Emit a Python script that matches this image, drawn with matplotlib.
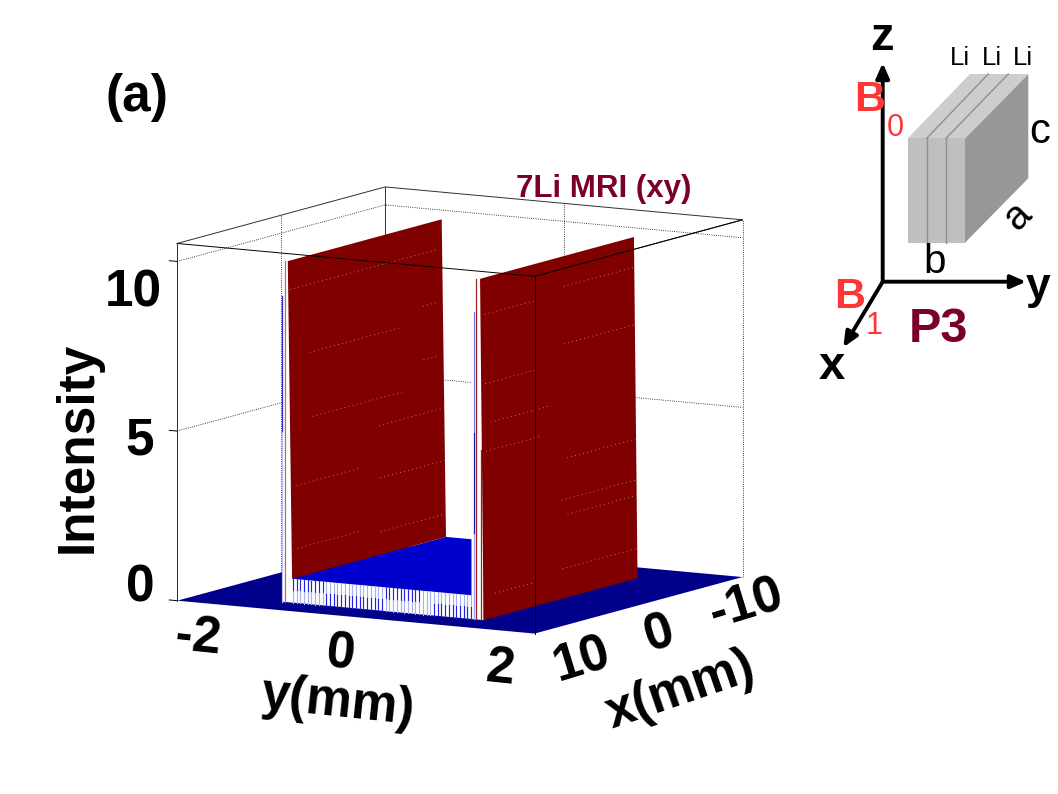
import numpy as np
import matplotlib
matplotlib.use("Agg")
import matplotlib.pyplot as plt

plt.rcParams["font.family"] = ["Liberation Sans", "DejaVu Sans"]

# surface
x_lim = [-12.5, 12.5]
y_lim = [-2.5, 2.5]
z_lim = [0, 10.53]
wall_x = [-8.9, 9.6]
wall_top = 10.05
plateau_z = 0.7
left_wall_y = [-1.29, -1.23]    # at the top, at the base
right_wall_y = [1.40, 1.45]
plateau_y = [-1.23, 1.28]
curtain_y = [-1.36, 1.30]

# light streaks on the walls: z, x from, x to
left_streaks = [(9.2, 9.4, -8.4), (7.2, 7.1, -3.8), (7.65, -6.5, -8.4), (5.3, 6.9, -3.8),
                (6.08, -6.5, -8.4), (3.4, 8.9, 1.2), (2.95, -1.1, -8.9), (4.5, -1.1, -8.9),
                (1.55, 8.9, 1.2), (1.38, -1.1, -8.9)]
right_streaks = [(8.97, 9.1, 2.8), (9.16, -0.4, -8.8), (7.47, -0.4, -8.8), (6.93, 9.1, 2.8),
                 (5.76, 8.5, 1.4), (4.94, 9.1, 2.6), (4.1, -0.6, -8.9), (2.9, 0.1, -8.9),
                 (2.44, -0.6, -8.9), (0.7, 8.2, 3.0), (0.88, 0.1, -8.9)]

# thin lines on the front ends of the walls: y, z from, z to, colour
end_lines = [(-1.37, 5.0, 9.0, "#2a2ac0"), (-1.37, 0.0, 5.0, "#b8bcec"), (-1.33, 0.0, wall_top, "#c06a6a"),
             (1.32, 5.5, 9.05, "#7a7af0"), (1.32, 2.5, 5.5, "#1a1ab0"), (1.32, 0.0, 2.5, "#a0a0f0"),
             (1.35, 0.0, wall_top, "#a02020"), (1.42, 0.0, 5.0, "#a02020")]

# mesh stripes on the front of the plateau
stripe_y = np.arange(-1.22, 1.28, 0.052)
upper_dark = [(-1.22, -0.77), (0.03, 0.57)]
lower_dark = [(-0.77, 0.03), (0.73, 1.30)]

# labels
z_ticks = [0, 5, 10]

# schematic, in picture pixels
origin = (882.7, 281.7)
arrow_ends = [(882.7, 63), (1026, 281.7), (843.3, 347.3)]
block_front = [(907.7, 138.3), (965, 138.3), (965, 242.7), (907.7, 242.7)]
block_top = [(907.7, 138.3), (965, 138.3), (1028.3, 74), (970, 74)]
block_side = [(965, 138.3), (1028.3, 74), (1028.3, 178.3), (965, 242.7)]
layer_lines = [[(926.7, 138.3), (926.7, 242.7)], [(946, 138.3), (946, 242.7)],
               [(926.7, 138.3), (988.3, 74)], [(946, 138.3), (1008.3, 74)]]

maroon = "#7a0026"
red = "#ff3636"

fig = plt.figure(figsize=(10.58, 7.94), dpi=100)
ax = fig.add_axes([0.00577, 0.0516, 0.8407, 0.8407], projection="3d", proj_type="ortho", computed_zorder=False)
ax.view_init(elev=9.1, azim=30.2)
ax.set_box_aspect((1, 1, 0.875))
ax.set_xlim(x_lim)
ax.set_ylim(y_lim)
ax.set_zlim(z_lim)
ax.set_axis_off()


def sheet(xs, ys, zs, color, order):
    ax.plot_surface(np.array(xs), np.array(ys), np.array(zs), color=color, shade=False,
                    linewidth=0, antialiased=True, zorder=order)


def hairline(xs, ys, zs, order, color="black", lw=0.7, ls="-"):
    ax.plot(xs, ys, zs, color=color, lw=lw, ls=ls, zorder=order)


x0, x1 = x_lim
y0, y1 = y_lim
ztop = z_lim[1]

# back of the box
for z in z_ticks[1:]:
    hairline([x1, x0, x0], [y0, y0, y1], [z, z, z], 1, lw=0.6, ls=":")
hairline([0, 0], [y0, y0], [0, ztop], 1, lw=0.6, ls=":")
hairline([x0, x0], [0, 0], [0, ztop], 1, lw=0.6, ls=":")
hairline([x1, x0, x0, x1], [y0, y0, y1, y1], [ztop] * 4, 1, color="#303030")
hairline([x0, x0], [y0, y0], [0, ztop], 1, color="#303030")
hairline([x0, x0], [y1, y1], [0, ztop], 1, lw=0.6, ls=":")
hairline([x1, x1], [y0, y0], [0, ztop], 1, color="#303030")

# floor
sheet([[x0, x1], [x0, x1]], [[y0, y0], [y1, y1]], [[0, 0], [0, 0]], "#00008b", 2)

# plateau
sheet([[wall_x[0], wall_x[1]], [wall_x[0], wall_x[1]]], [[plateau_y[0]] * 2, [plateau_y[1]] * 2],
      [[plateau_z] * 2, [plateau_z] * 2], "#0000cd", 2.5)

# white front ends of the plateau and walls
fx = wall_x[1]
sheet([[fx, fx], [fx, fx]], [[curtain_y[0], curtain_y[1]], [curtain_y[0], curtain_y[1]]],
      [[0, 0], [plateau_z, plateau_z]], "white", 3)
sheet([[fx, fx], [fx, fx]], [[curtain_y[0], curtain_y[0]], [plateau_y[0], plateau_y[0]]],
      [[0, wall_top], [0, wall_top]], "white", 3)
sheet([[fx, fx], [fx, fx]], [[plateau_y[1], plateau_y[1]], [right_wall_y[1], right_wall_y[1]]],
      [[0, wall_top], [0, wall_top]], "white", 3)

# stripes
mid = plateau_z / 2
for y in stripe_y:
    up = "#2222e0" if any(a <= y <= b for a, b in upper_dark) else "#aab2ee"
    low = "#2222e0" if any(a <= y <= b for a, b in lower_dark) else "#aab2ee"
    hairline([fx, fx], [y, y], [mid, plateau_z], 4, color=up, lw=0.85)
    hairline([fx, fx], [y, y], [0, mid], 4, color=low, lw=0.85)

for y, z_a, z_b, c in end_lines:
    hairline([fx, fx], [y, y], [z_a, z_b], 4, color=c, lw=0.9)

# walls
sheet([[wall_x[0], wall_x[1]], [wall_x[0], wall_x[1]]], [[left_wall_y[0]] * 2, [left_wall_y[1]] * 2],
      [[wall_top] * 2, [plateau_z] * 2], "#800000", 6)
sheet([[wall_x[0], wall_x[1]], [wall_x[0], wall_x[1]]], [[right_wall_y[0]] * 2, [right_wall_y[1]] * 2],
      [[wall_top] * 2, [0] * 2], "#800000", 6)

for streaks, wy, base in [(left_streaks, left_wall_y, plateau_z), (right_streaks, right_wall_y, 0)]:
    for z, xa, xb in streaks:
        y = np.interp(z, [base, wall_top], [wy[1], wy[0]])
        hairline([xa, xb], [y, y], [z, z], 7, color="#c99a9a", lw=0.6, ls=(0, (1, 4)))

# front edges of the box, these run over the walls
hairline([x1, x1, x0], [y0, y1, y1], [ztop] * 3, 8)
hairline([x1, x1], [y1, y1], [0, ztop], 8)
hairline([x1, x1], [y0, y0], [0, ztop], 8, color="#303030")

# z ticks
for z in z_ticks:
    hairline([x1, x1], [y0, y0 - 0.11], [z, z], 8)

# overlay in picture pixels for the labels and the sketch
ov = fig.add_axes([0, 0, 1, 1], facecolor="none", zorder=5)
ov.set_xlim(0, 1058)
ov.set_ylim(794, 0)
ov.axis("off")

big = dict(fontsize=37, fontweight="bold", ha="center", va="center")
ov.text(136.5, 97, "(a)", **big)
ov.text(78, 447, "Intensity", rotation=90, **big)
ov.text(133, 293, "10", **big)
ov.text(140, 441, "5", **big)
ov.text(140, 588, "0", **big)
ov.text(198, 638, "-2", rotation=-6, **big)
ov.text(341, 655, "0", rotation=-6, **big)
ov.text(500, 669, "2", rotation=-6, **big)
ov.text(338, 703, "y(mm)", rotation=-6, **big)
ov.text(582, 660, "10", rotation=17, **big)
ov.text(660, 634, "0", rotation=17, **big)
ov.text(746, 605, "-10", rotation=17, **big)
ov.text(681, 691, "x(mm)", rotation=19, **big)
ov.text(604, 189, "7Li MRI (xy)", fontsize=22.5, fontweight="bold", color=maroon, ha="center", va="center")

# sketch of the sample
ov.fill(*zip(*block_side), color="#979797", lw=0)
ov.fill(*zip(*block_top), color="#cdcdcd", lw=0)
ov.fill(*zip(*block_front), color="#bfbfbf", lw=0)
for line in layer_lines:
    ov.plot(*zip(*line), color="#8f8f8f", lw=1.0)
for end in arrow_ends:
    ov.annotate("", xy=end, xytext=origin,
                arrowprops=dict(arrowstyle="-|>,head_width=0.4,head_length=0.9", color="black", lw=2.8,
                                shrinkA=0, shrinkB=0))

ov.text(882, 38, "z", fontsize=34, fontweight="bold", ha="center", va="center")
ov.text(1038, 287, "y", fontsize=32, fontweight="bold", ha="center", va="center")
ov.text(832, 367, "x", fontsize=34, fontweight="bold", ha="center", va="center")
for lx in [960, 992, 1023]:
    ov.text(lx, 58, "Li", fontsize=18.5, ha="center", va="center")
ov.text(1040, 132, "c", fontsize=30, ha="center", va="center")
ov.text(1017, 216, "a", fontsize=29, rotation=45, ha="center", va="center")
ov.text(935, 262, "b", fontsize=29, ha="center", va="center")
ov.text(870, 100, "B", fontsize=31, fontweight="bold", color=red, ha="center", va="center")
ov.text(895, 128, "0", fontsize=22, color=red, ha="center", va="center")
ov.text(850, 297, "B", fontsize=31, fontweight="bold", color=red, ha="center", va="center")
ov.text(874, 326, "1", fontsize=22, color=red, ha="center", va="center")
ov.text(938, 330, "P3", fontsize=35, fontweight="bold", color=maroon, ha="center", va="center")

fig.savefig("out.png", dpi=100)
